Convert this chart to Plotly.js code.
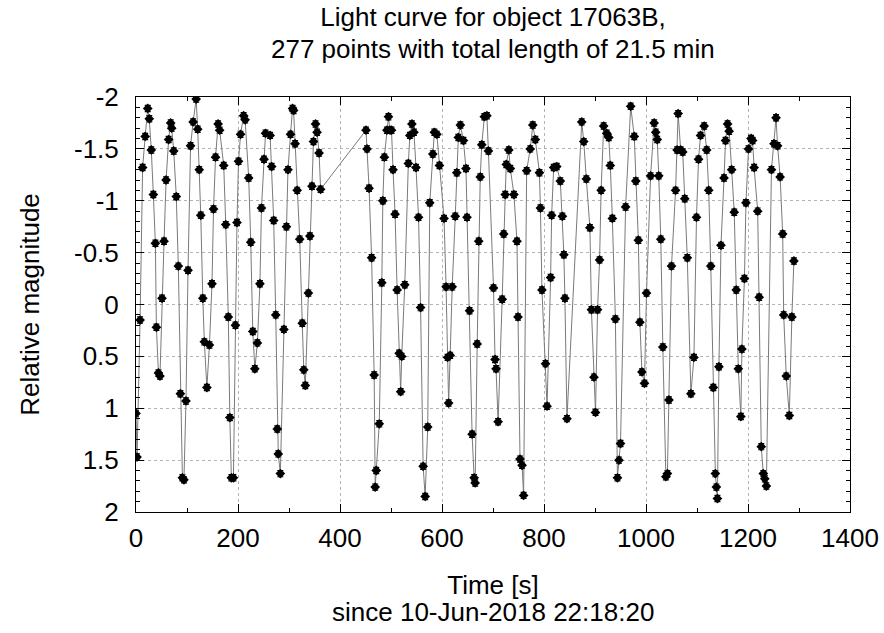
<!DOCTYPE html>
<html>
<head>
<meta charset="utf-8">
<script src="https://cdn.plot.ly/plotly-3.0.1.min.js"></script>
<style>html,body{margin:0;padding:0;background:#fff;}#chart{width:884px;height:633px;}</style>
</head>
<body>
<div id="chart"></div>
<script>
// Time since start [s]
const timeSec = [
  0, 2, 8, 13, 18, 23, 26, 30, 34, 38, 40, 44, 47, 51, 55, 59, 64, 68, 70, 74,
  79, 83, 87, 91, 94, 98, 102, 107, 112, 118, 121, 124, 127, 131, 134, 139, 144, 149, 152, 156,
  161, 164, 172, 176, 181, 184, 187, 191, 195, 198, 201, 205, 211, 214, 221, 225, 229, 233, 238, 243,
  246, 251, 254, 263, 266, 270, 274, 277, 279, 283, 290, 295, 298, 303, 307, 309, 312, 316, 321, 326,
  329, 332, 338, 341, 345, 348, 352, 355, 359, 362,
  451, 453, 457, 462, 467, 469, 471, 477, 482, 484, 487, 492, 495, 498, 501, 504, 508, 512, 516, 519,
  521, 527, 534, 537, 541, 545, 549, 554, 558, 563, 567, 572, 576, 582, 585, 590, 595, 604, 608, 611,
  613, 616, 620, 626, 629, 632, 636, 642, 647, 649, 654, 659, 663, 665, 669, 672, 675, 678, 683, 688,
  691, 701, 704, 706, 710, 718, 721, 724, 726, 731, 734, 741, 747, 749, 753, 757, 760, 766, 773, 778,
  783, 791, 793, 796, 803, 806, 813, 815, 819, 825, 832, 836, 839, 841, 845, 874, 878, 883, 890, 893,
  898, 901, 905, 909, 912, 917, 923, 927, 930, 934, 940, 944, 947, 950, 960, 970, 977, 980, 985, 988,
  992, 997, 1001, 1009, 1016, 1019, 1022, 1025, 1029, 1033, 1039, 1042, 1045, 1050, 1058, 1061, 1063, 1068, 1072, 1076,
  1081, 1088, 1094, 1099, 1103, 1107, 1114, 1119, 1123, 1127, 1132, 1136, 1138, 1140, 1143, 1147, 1153, 1156, 1160, 1163,
  1168, 1173, 1177, 1181, 1186, 1188, 1193, 1196, 1201, 1206, 1209, 1212, 1219, 1222, 1226, 1230, 1233, 1236, 1246, 1251,
  1255, 1258, 1263, 1268, 1270, 1275, 1281, 1286, 1290
];
// Relative magnitude
const relMag = [
  1.05, 1.47, 0.15, -1.32, -1.62, -1.89, -1.79, -1.49, -1.06, -0.59, 0.22, 0.66, 0.69, -0.06, -0.61, -1.20, -1.59, -1.75, -1.70, -1.48,
  -1.04, -0.37, 0.86, 1.67, 1.69, 0.93, -0.33, -1.53, -1.76, -1.98, -1.69, -1.30, -0.86, -0.06, 0.36, 0.80, 0.39, -0.20, -0.92, -1.42,
  -1.74, -1.68, -1.34, -0.77, 0.12, 1.09, 1.67, 1.67, 0.20, -0.79, -1.38, -1.64, -1.82, -1.78, -1.22, -0.60, 0.26, 0.62, 0.37, -0.20,
  -0.93, -1.40, -1.65, -1.63, -1.33, -0.81, 0.10, 1.20, 1.44, 1.63, 0.24, -0.75, -1.30, -1.64, -1.89, -1.87, -1.55, -1.10, -0.63, 0.18,
  0.63, 0.78, -0.11, -0.66, -1.14, -1.57, -1.74, -1.66, -1.46, -1.11,
  -1.68, -1.50, -1.12, -0.45, 0.68, 1.76, 1.60, 1.15, -0.21, -1.00, -1.42, -1.68, -1.81, -1.68, -1.68, -1.30, -0.87, -0.14, 0.47, 0.84,
  0.50, -0.19, -1.36, -1.63, -1.74, -1.66, -1.32, -0.84, 0.03, 1.56, 1.85, 1.18, -0.98, -1.45, -1.66, -1.64, -1.34, -0.83, -0.17, 0.51,
  0.95, 0.49, -0.17, -0.85, -1.27, -1.61, -1.73, -1.58, -1.31, -0.84, 0.06, 1.25, 1.67, 1.72, 0.38, -0.61, -1.23, -1.54, -1.81, -1.82,
  -1.48, -0.16, 0.53, 0.62, 1.13, -0.05, -0.68, -1.06, -1.35, -1.49, -1.31, -1.06, -0.61, 0.12, 1.49, 1.55, 1.84, -1.29, -1.50, -1.73,
  -1.59, -1.27, -0.93, -0.14, 0.57, 0.98, -0.26, -0.86, -1.32, -1.33, -1.19, -0.85, -0.48, -0.06, 1.10, -1.76, -1.57, -1.21, -0.74, 0.05,
  0.70, 1.04, 0.05, -0.43, -1.10, -1.72, -1.65, -1.61, -1.34, -0.83, 0.14, 1.67, 1.50, 1.34, -0.94, -1.91, -1.62, -1.19, -0.62, 0.17,
  0.65, 0.76, -0.11, -1.24, -1.75, -1.66, -1.59, -1.24, -0.63, 0.41, 1.66, 1.63, 0.92, -0.37, -1.10, -1.49, -1.84, -1.49, -1.47, -1.02,
  -0.45, 0.86, 0.51, -0.84, -1.40, -1.63, -1.72, -1.49, -1.10, -0.37, 0.80, 1.63, 1.76, 1.87, 0.60, -0.57, -1.22, -1.58, -1.74, -1.67,
  -1.30, -0.89, -0.14, 0.62, 1.08, 0.43, -0.25, -0.98, -1.50, -1.60, -1.58, -1.32, -0.90, -0.07, 1.37, 1.63, 1.68, 1.75, -1.30, -1.55,
  -1.80, -1.53, -1.23, -0.68, 0.10, 0.69, 1.07, 0.12, -0.42
];
const xTickVals = [0, 200, 400, 600, 800, 1000, 1200, 1400];
const xTickText = ['0', '200', '400', '600', '800', '1000', '1200', '1400'];
const yTickVals = [-2, -1.5, -1, -0.5, 0, 0.5, 1, 1.5, 2];
const yTickText = ['-2', '-1.5', '-1', '-0.5', '0', '0.5', '1', '1.5', '2'];
const titleLines = ['Light curve for object 17063B,', '277 points with total length of 21.5 min'];
const xTitleLines = ['Time [s]', 'since 10-Jun-2018 22:18:20'];
const yTitle = 'Relative magnitude';

const FONT = 'Liberation Sans, Arial, Helvetica, sans-serif';
const ink = '#000000';
const textFont = {family: FONT, size: 26, color: ink};

const trace = {
  x: timeSec,
  y: relMag,
  type: 'scatter',
  mode: 'lines+markers',
  line: {color: '#7a7a7a', width: 1},
  marker: {symbol: 'diamond', size: 7.5, color: ink},
  error_y: {type: 'constant', value: 0.03, color: ink, thickness: 1.2, width: 3},
  hoverinfo: 'x+y',
  showlegend: false
};

const axisCommon = {
  showline: true, linecolor: ink, linewidth: 1, mirror: 'ticks',
  ticks: 'inside', ticklen: 8, tickwidth: 1, tickcolor: ink,
  showgrid: true, gridcolor: '#b4b4b4', griddash: 'dot', gridwidth: 1,
  zeroline: false,
  tickfont: textFont
};

const layout = {
  width: 884, height: 633,
  paper_bgcolor: '#ffffff', plot_bgcolor: '#ffffff',
  margin: {l: 136, r: 34, t: 97, b: 121},
  font: textFont,
  title: {
    text: titleLines[0],
    font: textFont,
    x: 0.5, xref: 'paper', xanchor: 'center',
    y: 0.973, yref: 'container', yanchor: 'middle'
  },
  annotations: [
    {text: titleLines[1], xref: 'paper', yref: 'paper', x: 0.5, y: 1.1157,
     xanchor: 'center', yanchor: 'middle', showarrow: false, font: textFont},
    {text: xTitleLines[1], xref: 'paper', yref: 'paper', x: 0.5, y: -0.241,
     xanchor: 'center', yanchor: 'middle', showarrow: false, font: textFont}
  ],
  xaxis: Object.assign({}, axisCommon, {
    range: [0, 1400], tickmode: 'array', tickvals: xTickVals, ticktext: xTickText,
    ticklabelstandoff: 3,
    minor: {dtick: 100, ticks: 'inside', ticklen: 4, tickcolor: ink, showgrid: false},
    title: {text: xTitleLines[0], font: textFont, standoff: 23},
    automargin: false
  }),
  yaxis: Object.assign({}, axisCommon, {
    range: [2, -2], tickmode: 'array', tickvals: yTickVals, ticktext: yTickText,
    ticklabelstandoff: 11,
    minor: {dtick: 0.1, ticks: 'inside', ticklen: 4, tickcolor: ink, showgrid: false},
    title: {text: yTitle, font: textFont, standoff: 26},
    automargin: false
  })
};

Plotly.newPlot('chart', [trace], layout, {displayModeBar: false, staticPlot: true});
</script>
</body>
</html>
